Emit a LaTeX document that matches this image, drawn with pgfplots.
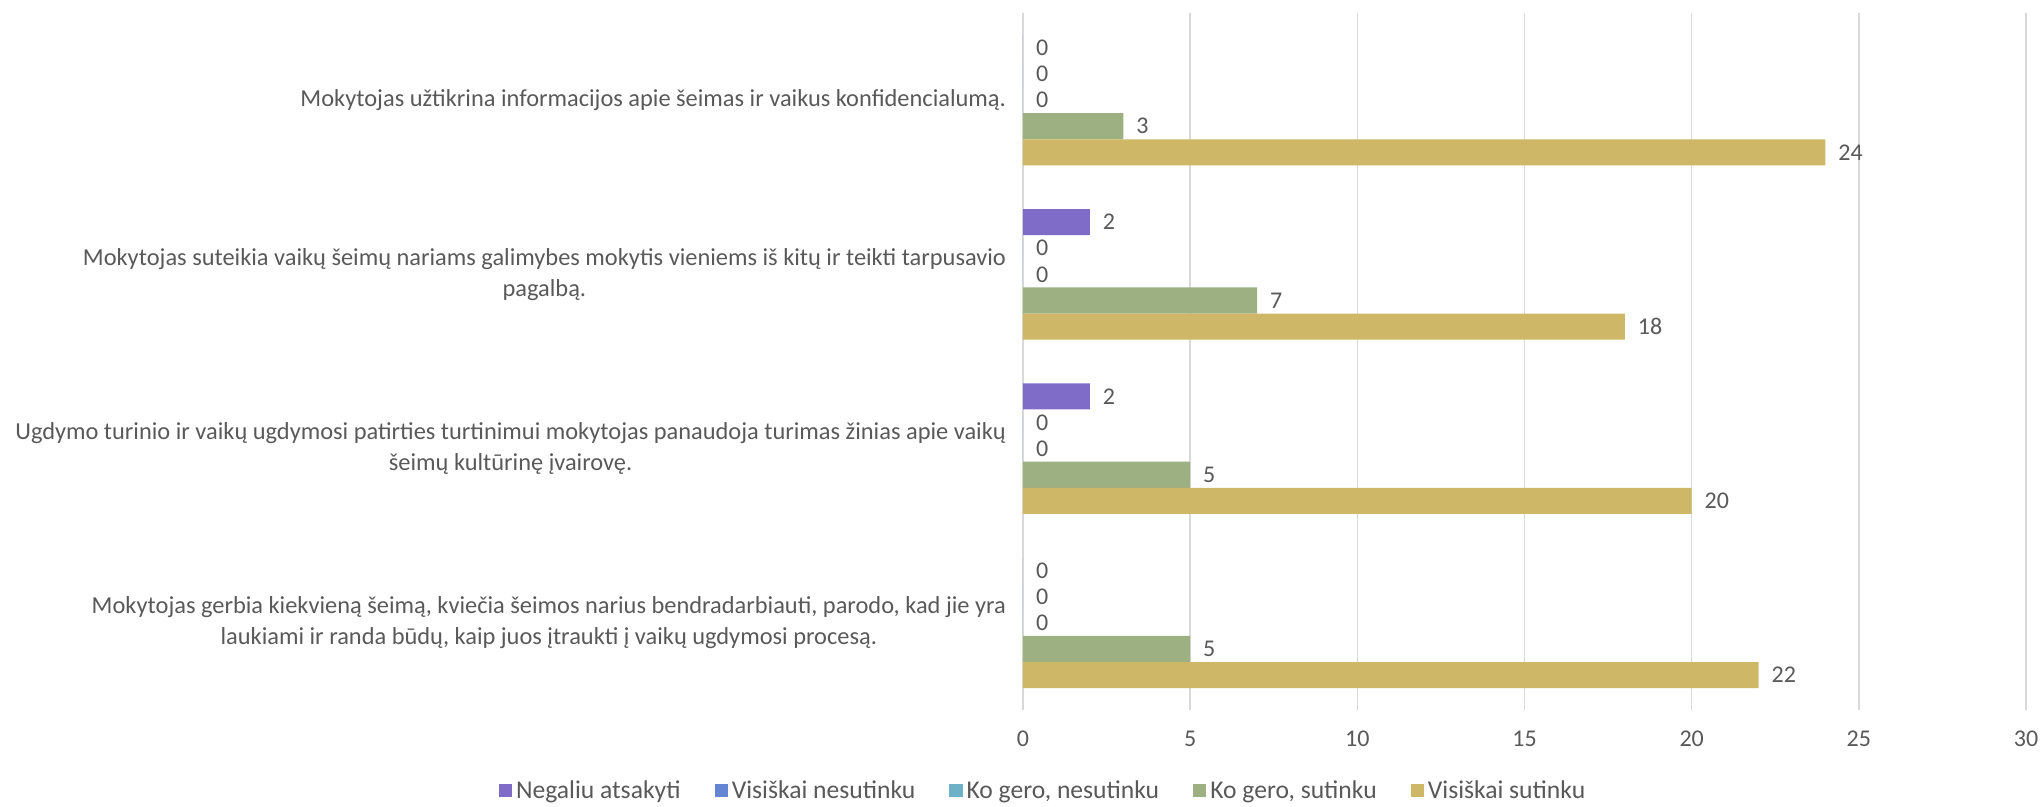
\documentclass[border=0pt]{standalone}
\usepackage{pgfplots}
\pgfplotsset{compat=1.18}
\usepackage{fontspec}
\setmainfont{Carlito}
\definecolor{c1}{HTML}{7F6BC8}
\definecolor{c2}{HTML}{6484D4}
\definecolor{c3}{HTML}{6CB1C8}
\definecolor{c4}{HTML}{9DB082}
\definecolor{c5}{HTML}{CEB766}
\definecolor{txt}{HTML}{595959}
\definecolor{grd}{HTML}{D9D9D9}
\begin{document}
\begin{tikzpicture}[x=1pt,y=1pt]
\begin{axis}[
  at={(0,0)}, anchor=south west,
  scale only axis, width=501.5pt, height=348.5pt,
  xbar, bar width=0.15,
  xmin=0, xmax=30, ymin=-0.5, ymax=3.5, y dir=reverse,
  xtick={0,5,...,30}, ytick={0,1,2,3},
  yticklabels={
    {Mokytojas užtikrina informacijos apie šeimas ir vaikus konfidencialumą.},
    {Mokytojas suteikia vaikų šeimų nariams galimybes mokytis vieniems iš kitų ir teikti tarpusavio\\pagalbą.},
    {Ugdymo turinio ir vaikų ugdymosi patirties turtinimui mokytojas panaudoja turimas žinias apie vaikų\\šeimų kultūrinę įvairovę.},
    {Mokytojas gerbia kiekvieną šeimą, kviečia šeimos narius bendradarbiauti, parodo, kad jie yra\\laukiami ir randa būdų, kaip juos įtraukti į vaikų ugdymosi procesą.}
  },
  yticklabel style={align=center, font=\fontsize{12.2}{15.5}\selectfont, text=txt, xshift=-5pt},
  xticklabel style={font=\fontsize{12}{14}\selectfont, text=txt, yshift=-7pt},
  /pgf/number format/assume math mode=true,
  xmajorgrids, ymajorgrids=false,
  grid style={grd, line width=0.8pt},
  axis line style={draw=none},
  major tick length=0pt,
  nodes near coords,
  nodes near coords style={font=\fontsize{12}{14}\selectfont, text=txt, anchor=west, xshift=3pt},
  legend columns=5,
  legend style={at={(0.021,-0.116)}, anchor=center, draw=none, fill=none,
    font=\fontsize{12.8}{14}\selectfont, text=txt,
    /tikz/every even column/.append style={column sep=15pt}},
  legend image code/.code={\fill[#1] (0pt,-3.3pt) rectangle (6.6pt,3.3pt);},
]
\addplot[fill=c1, draw=none, bar shift=-0.3] coordinates {(0,0) (2,1) (2,2) (0,3)};
\addplot[fill=c2, draw=none, bar shift=-0.15] coordinates {(0,0) (0,1) (0,2) (0,3)};
\addplot[fill=c3, draw=none, bar shift=0] coordinates {(0,0) (0,1) (0,2) (0,3)};
\addplot[fill=c4, draw=none, bar shift=0.15] coordinates {(3,0) (7,1) (5,2) (5,3)};
\addplot[fill=c5, draw=none, bar shift=0.3] coordinates {(24,0) (18,1) (20,2) (22,3)};
\legend{Negaliu atsakyti, Visiškai nesutinku, {Ko gero, nesutinku}, {Ko gero, sutinku}, Visiškai sutinku}
\end{axis}
\pgfresetboundingbox
\useasboundingbox (-511.5,-48.5) rectangle (510,355);
\end{tikzpicture}
\end{document}
